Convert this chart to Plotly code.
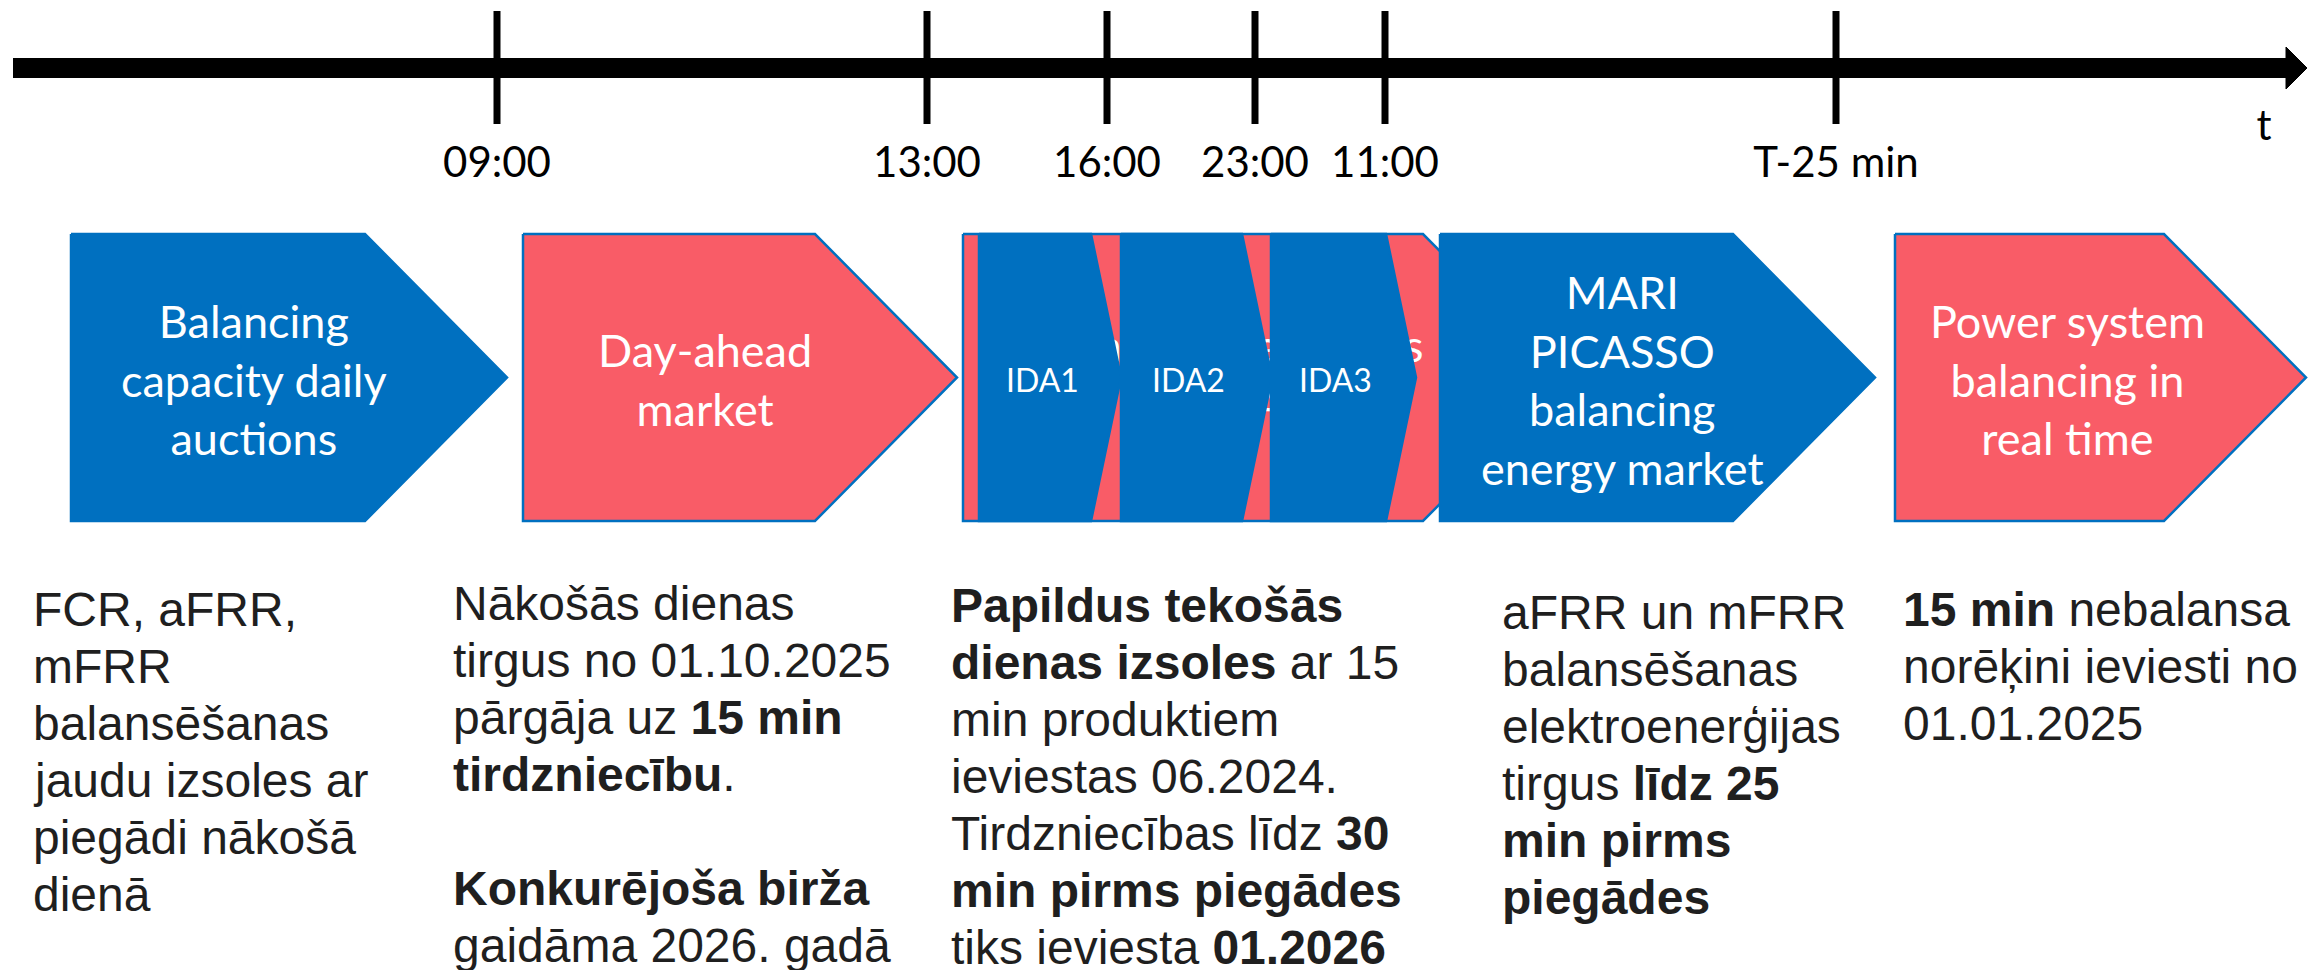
import plotly.graph_objects as go

BLUE = "#0070C0"
RED = "#F95C67"
INK = "#1f1f1f"
BOX_FONT = "Lato, Liberation Sans, Arial, sans-serif"
BODY_FONT = "Liberation Sans, Arial, sans-serif"

# timeline marks
tick_labels = ["09:00", "13:00", "16:00", "23:00", "11:00", "T-25 min"]
tick_pos = [497, 927, 1107, 1255, 1385, 1836]

# process stages (chevrons)
stage_names = [
    "Balancing<br>capacity daily<br>auctions",
    "Day-ahead<br>market",
    "Intraday auctions<br>(IDAs)",
    "MARI<br>PICASSO<br>balancing<br>energy market",
    "Power system<br>balancing in<br>real time",
]
stage_colors = [BLUE, RED, RED, BLUE, RED]
stage_start = [71, 523, 963, 1440, 1895]
stage_end = [507, 957, 1565, 1875, 2306]

# intraday auctions sitting on top of the intraday stage
ida_names = ["IDA1", "IDA2", "IDA3"]
ida_start = [979, 1121, 1271]
ida_end = [1121, 1272, 1416]

# notes under each stage
notes = [
    ["FCR, aFRR,", "mFRR", "balansēšanas", "jaudu izsoles ar", "piegādi nākošā", "dienā"],
    ["Nākošās dienas", "tirgus no 01.10.2025", "pārgāja uz <b>15 min</b>",
     "<b>tirdzniecību</b>.", "", "<b>Konkurējoša birža</b>", "gaidāma 2026. gadā"],
    ["<b>Papildus tekošās</b>", "<b>dienas izsoles</b> ar 15", "min produktiem",
     "ieviestas 06.2024.", "Tirdzniecības līdz <b>30</b>", "<b>min pirms piegādes</b>",
     "tiks ieviesta <b>01.2026</b>"],
    ["aFRR un mFRR", "balansēšanas", "elektroenerģijas", "tirgus <b>līdz 25</b>",
     "<b>min pirms</b>", "<b>piegādes</b>"],
    ["<b>15 min</b> nebalansa", "norēķini ieviesti no", "01.01.2025"],
]
note_left = [31, 451, 949, 1500, 1901]
note_top = [609, 603, 605, 612, 609]
LINE = 57

W, H = 2318, 970
PAD = 8  # page body margin of the html wrapper
BOX_TOP, BOX_BOT = 234, 521
MID = (BOX_TOP + BOX_BOT) / 2


def chevron(x0, x1, point, top=BOX_TOP, bot=BOX_BOT):
    mid = (top + bot) / 2
    xs = [x0, x1 - point, x1, x1 - point, x0, x0]
    ys = [top, top, mid, bot, bot, top]
    return xs, ys


fig = go.Figure()

# timeline
fig.add_trace(go.Scatter(x=[13, 2290], y=[68, 68], mode="lines",
                         line=dict(color="black", width=20), hoverinfo="skip"))
fig.add_trace(go.Scatter(x=[2286, 2307, 2286, 2286], y=[47, 68, 89, 47], mode="lines",
                         fill="toself", fillcolor="black", line=dict(color="black", width=1),
                         hoverinfo="skip"))
tx, ty = [], []
for p in tick_pos:
    tx += [p, p, None]
    ty += [11, 124, None]
fig.add_trace(go.Scatter(x=tx, y=ty, mode="lines",
                         line=dict(color="black", width=7), hoverinfo="skip"))
fig.add_trace(go.Scatter(x=tick_pos, y=[166] * len(tick_pos), mode="text",
                         text=tick_labels, textposition="middle center",
                         textfont=dict(family=BOX_FONT, size=42, color="black"),
                         hoverinfo="skip"))
fig.add_trace(go.Scatter(x=[2264], y=[129], mode="text", text=["t"],
                         textposition="middle center",
                         textfont=dict(family=BOX_FONT, size=42, color="black"),
                         hoverinfo="skip"))


def add_box(x0, x1, color, point):
    xs, ys = chevron(x0, x1, point)
    fig.add_trace(go.Scatter(x=xs, y=ys, mode="lines", fill="toself", fillcolor=color,
                             line=dict(color=BLUE, width=2.5), hoverinfo="skip"))


# stages before the intraday group
for i in [0, 1, 2]:
    add_box(stage_start[i], stage_end[i], stage_colors[i], 142)

# intraday stage caption (mostly hidden behind the IDA chevrons)
fig.add_trace(go.Scatter(x=[stage_start[2] + 0.5 * (stage_end[2] - stage_start[2]) - 10],
                         y=[MID + 2], mode="text", text=[stage_names[2]],
                         textposition="middle center",
                         textfont=dict(family=BOX_FONT, size=45, color="white"),
                         hoverinfo="skip"))

for a, b in zip(ida_start, ida_end):
    add_box(a, b, BLUE, 30)

for i in [3, 4]:
    add_box(stage_start[i], stage_end[i], stage_colors[i], 142)

# captions
for i in [0, 1, 3, 4]:
    cx = stage_start[i] + 0.42 * (stage_end[i] - stage_start[i])
    fig.add_annotation(x=cx, y=MID + 2, text=stage_names[i], showarrow=False,
                       xanchor="center", yanchor="middle",
                       font=dict(family=BOX_FONT, size=45, color="white"))
for name, a, b in zip(ida_names, ida_start, ida_end):
    fig.add_annotation(x=(a + b) / 2 - 8, y=MID + 2, text=name, showarrow=False,
                       xanchor="center", yanchor="middle",
                       font=dict(family=BOX_FONT, size=32, color="white"))

# notes
for lines, x0, y0 in zip(notes, note_left, note_top):
    for k, line in enumerate(lines):
        if not line:
            continue
        fig.add_annotation(x=x0, y=y0 + k * LINE, text=line, showarrow=False,
                           xanchor="left", yanchor="middle",
                           font=dict(family=BODY_FONT, size=48, color=INK))

fig.update_layout(
    width=W - PAD, height=H - PAD, margin=dict(l=0, r=0, t=0, b=0),
    paper_bgcolor="white", plot_bgcolor="white", showlegend=False,
    xaxis=dict(range=[PAD, W], visible=False, fixedrange=True),
    yaxis=dict(range=[H, PAD], visible=False, fixedrange=True),
)

fig.write_html("out.html")
